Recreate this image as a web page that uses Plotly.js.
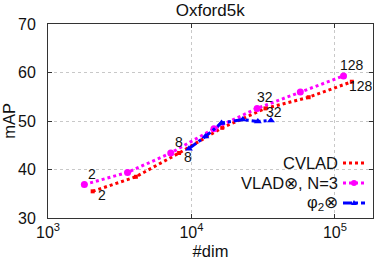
<!DOCTYPE html>
<html><head><meta charset="utf-8">
<script src="https://cdn.plot.ly/plotly-3.0.1.min.js"></script>
<style>html,body{margin:0;padding:0;background:#fff}#c{width:374px;height:260px}</style>
</head><body><div id="c"></div>
<script>
// CVLAD
const cvladK = [2, 4, 8, 16, 32, 64, 128];
const cvladDim = [2048, 4096, 8192, 16384, 32768, 65536, 131072];
const cvladMAP = [35.5, 38.5, 43.4, 48.6, 52.6, 54.9, 58.1];
// VLAD⊗, N=3
const vladK = [2, 4, 8, 16, 32, 64, 128];
const vladDim = [1792, 3584, 7168, 14336, 28672, 57344, 114688];
const vladMAP = [36.9, 39.4, 43.4, 48.4, 52.6, 56.0, 59.3];
// φ2⊗
const phiDim = [9600, 12500, 16200, 22800, 29000, 35800];
const phiMAP = [44.3, 46.8, 49.6, 50.3, 49.9, 50.1];

const labeledK = [2, 8, 32, 128];
const seriesNames = ['CVLAD', 'VLAD⊗, N=3', 'φ<sub>2</sub>⊗'];
const colors = ['#ff0000', '#ff00ff', '#0000ff'];

const font = 'Liberation Sans, Arial, Helvetica, sans-serif';

const traces = [
  {x: cvladDim, y: cvladMAP, mode: 'lines+markers', name: seriesNames[0],
   line: {color: colors[0], width: 3, dash: 'dot'}, marker: {symbol: 'square', size: 4, color: colors[0]}},
  {x: vladDim, y: vladMAP, mode: 'lines+markers', name: seriesNames[1],
   line: {color: colors[1], width: 3, dash: 'dot'}, marker: {symbol: 'circle', size: 7, color: colors[1]}},
  {x: phiDim, y: phiMAP, mode: 'lines+markers', name: seriesNames[2],
   line: {color: colors[2], width: 3, dash: 'dashdot'}, marker: {symbol: 'triangle-up', size: 7, color: colors[2]}}
];

const annotations = [];
labeledK.forEach(k => {
  const iv = vladK.indexOf(k);
  annotations.push({x: Math.log10(vladDim[iv]), y: vladMAP[iv], xref: 'x', yref: 'y', text: String(k),
    showarrow: false, xshift: 8, yshift: 11, font: {family: font, size: 14, color: '#111'}});
  const ic = cvladK.indexOf(k);
  annotations.push({x: Math.log10(cvladDim[ic]), y: cvladMAP[ic], xref: 'x', yref: 'y', text: String(k),
    showarrow: false, xshift: 9, yshift: -4, font: {family: font, size: 14, color: '#111'}});
});

// custom legend (text right-aligned, sample on the right)
const L = 48, W = 325, T = 24, H = 194;
const px = v => (v - L) / W, py = v => (T + H - v) / H;
const legY = [163, 183, 203];
const dashes = ['dot', 'dot', 'dashdot'];
const shapes = [];
seriesNames.forEach((n, i) => {
  annotations.push({x: px(340), y: py(legY[i]), xref: 'paper', yref: 'paper', text: n, showarrow: false,
    xanchor: 'right', yanchor: 'middle', font: {family: font, size: 16.5, color: '#111'}});
  shapes.push({type: 'line', xref: 'paper', yref: 'paper', x0: px(343), x1: px(365), y0: py(legY[i]), y1: py(legY[i]),
    line: {color: colors[i], width: 3, dash: dashes[i]}});
});
shapes.push({type: 'circle', xref: 'paper', yref: 'paper', x0: px(351), x1: px(357), y0: py(legY[1] + 3), y1: py(legY[1] - 3),
  fillcolor: colors[1], line: {color: colors[1], width: 0}});
shapes.push({type: 'path', xref: 'paper', yref: 'paper',
  path: `M ${px(351)} ${py(legY[2] + 2)} L ${px(357)} ${py(legY[2] + 2)} L ${px(354)} ${py(legY[2] - 3)} Z`,
  fillcolor: colors[2], line: {color: colors[2], width: 0}});

const axisCommon = {showline: true, mirror: 'ticks', linecolor: '#333', linewidth: 1, ticks: 'inside', ticklen: 4,
  tickcolor: '#333', showgrid: true, gridcolor: '#c8c8c8', griddash: 'dot', gridwidth: 1, zeroline: false,
  tickfont: {family: font, size: 16, color: '#111'}};

const layout = {
  width: 374, height: 260, margin: {l: L, r: 1, t: T, b: 260 - T - H},
  paper_bgcolor: '#fff', plot_bgcolor: '#fff', showlegend: false,
  title: {text: 'Oxford5k', font: {family: font, size: 17, color: '#111'}, x: 0.562, xanchor: 'center', y: 0.962, yanchor: 'middle'},
  xaxis: Object.assign({}, axisCommon, {type: 'log', range: [3, 5.265],
    tickvals: [1e3, 1e4, 1e5], ticktext: ['10<sup>3</sup>', '10<sup>4</sup>', '10<sup>5</sup>'],
    title: {text: '#dim', font: {family: font, size: 16.5, color: '#111'}, standoff: 6}}),
  yaxis: Object.assign({}, axisCommon, {range: [30, 70], tickvals: [30, 40, 50, 60, 70], ticklabelstandoff: 8,
    title: {text: 'mAP', font: {family: font, size: 16.5, color: '#111'}, standoff: 1}}),
  annotations: annotations, shapes: shapes
};

Plotly.newPlot('c', traces, layout, {displayModeBar: false, staticPlot: true});
</script></body></html>
